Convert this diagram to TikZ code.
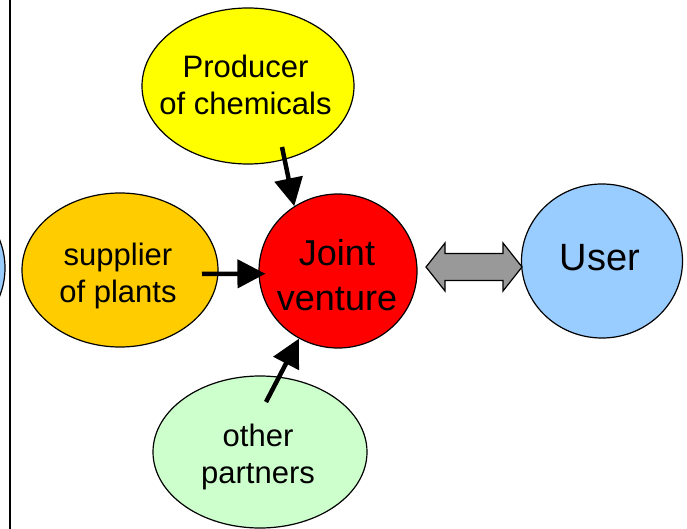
\documentclass[tikz,border=0pt]{standalone}
\usepackage{fontspec}
\setmainfont{Liberation Sans}
\usetikzlibrary{arrows.meta,shapes.geometric}

\definecolor{cYellow}{HTML}{FFFF00}
\definecolor{cOrange}{HTML}{FFCC00}
\definecolor{cRed}{HTML}{FF0000}
\definecolor{cBlue}{HTML}{99CCFF}
\definecolor{cGreen}{HTML}{CCFFCC}
\definecolor{cGray}{HTML}{999999}

\tikzset{
  blob/.style={ellipse, draw=black, line width=1.2pt, inner sep=0pt},
  words/.style={inner sep=0pt, align=center},
  smalltext/.style={words, font=\fontsize{31}{37}\selectfont},
  bigtext/.style={words, font=\fontsize{36}{45}\selectfont},
  feed/.style={line width=4.5pt, -{Triangle[length=28pt,width=28pt]}},
  block/.style={draw=black, line width=1.2pt, fill=cGray, line join=miter}
}

\begin{document}
\begin{tikzpicture}[x=1pt, y=-1pt]
  \useasboundingbox (0,0) rectangle (687,529);
  \clip (0,0) rectangle (687,529);

  % partner bubble cut off at the left edge and the divider line
  \node[blob, fill=cBlue, minimum width=160pt, minimum height=156pt] (prev) at (-75,268) {};
  \draw[line width=1.5pt] (10,0) coordinate (divtop) -- (10,529) coordinate (divbot);

  % partner bubbles
  \node[blob, fill=cYellow, minimum width=212pt, minimum height=156pt] (prod) at (248,86) {};
  \node[smalltext] (prodtxt) at (245.5,85) {Producer\\of chemicals};
  \node[blob, fill=cOrange, minimum width=196pt, minimum height=154pt] (supp) at (120,270) {};
  \node[smalltext] (supptxt) at (118,275.5) {supplier\\of plants};
  \node[blob, fill=cGreen, minimum width=214pt, minimum height=152pt] (other) at (260,452) {};
  \node[smalltext] (othertxt) at (258,456.5) {other\\partners};

  % the joint venture and its user
  \node[blob, fill=cRed, minimum width=158pt, minimum height=154pt] (jv) at (338,271) {};
  \node[bigtext] (jvtxt) at (337,275) {Joint\\venture};
  \node[blob, fill=cBlue, minimum width=161pt, minimum height=154pt] (user) at (602,261) {};
  \node[words, font=\fontsize{38}{45}\selectfont] (usertxt) at (600,258) {User};

  % contributions flowing into the joint venture
  \coordinate (tprod) at (282,147);
  \coordinate (tsupp) at (202,274);
  \coordinate (tother) at (266,402);
  \draw[feed] (tprod) -- (jv.124);
  \draw[feed, shorten >=-7pt] (tsupp) -- (jv.182);
  \draw[feed] (tother) -- (jv.240);

  % two-way exchange between joint venture and user
  \coordinate (dl) at (426,267);
  \coordinate (dr) at (522,267);
  \draw[block] (dl) -- ++(19,-24) -- ++(0,10.5) -- ++(58,0) -- ++(0,-10.5)
    -- (dr) -- ++(-19,24) -- ++(0,-10.5) -- ++(-58,0) -- ++(0,10.5) -- cycle;
\end{tikzpicture}
\end{document}
